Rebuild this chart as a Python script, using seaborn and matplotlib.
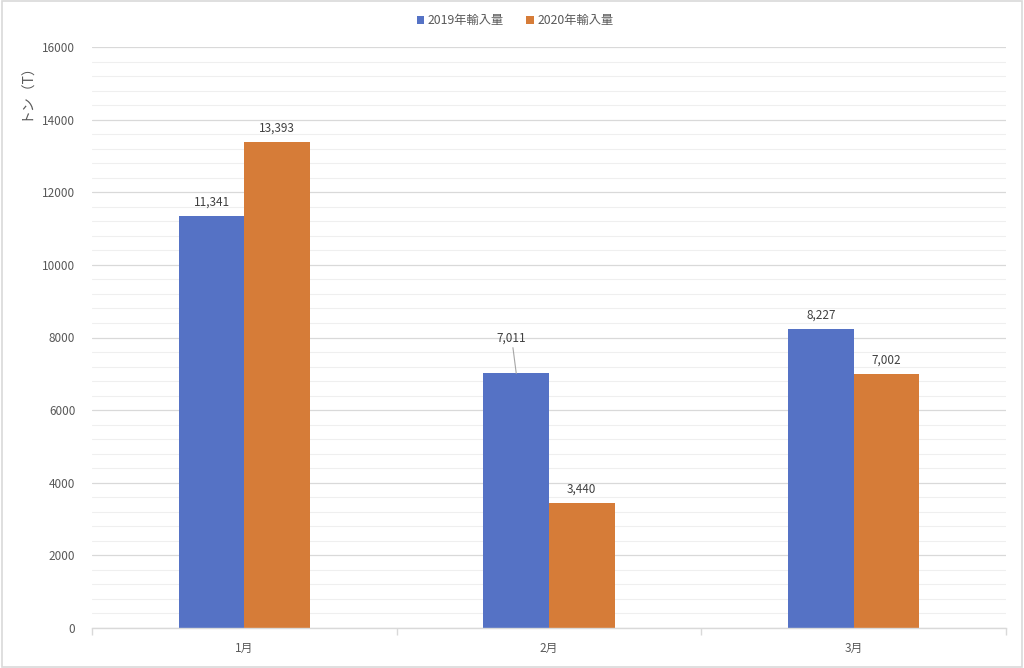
import matplotlib
matplotlib.use("Agg")
import matplotlib.pyplot as plt
import seaborn as sns
import pandas as pd
from matplotlib.patches import Rectangle
from matplotlib.ticker import MultipleLocator, FixedLocator

months = ["1月", "2月", "3月"]
series_names = ["2019年輸入量", "2020年輸入量"]
imports_2019 = [11341, 7011, 8227]
imports_2020 = [13393, 3440, 7002]
colors = ["#5572C5", "#D67C38"]

df = pd.DataFrame({
    "month": months * 2,
    "series": [series_names[0]] * 3 + [series_names[1]] * 3,
    "value": imports_2019 + imports_2020,
})

sns.set_theme(style="white")
plt.rcParams["font.family"] = ["Noto Sans CJK JP", "DejaVu Sans"]

fig = plt.figure(figsize=(10.24, 6.68), dpi=100)
fig.patches.append(Rectangle((0.002, 0.002), 0.996, 0.996, transform=fig.transFigure,
                             fill=False, edgecolor="#D9D9D9", linewidth=1.2))
ax = fig.add_axes([92 / 1024, 40 / 668, 914 / 1024, 581 / 668])

sns.barplot(data=df, x="month", y="value", hue="series", palette=colors,
            width=0.43, saturation=1, ax=ax, legend=True, linewidth=0, edgecolor="none")

ax.set_xlim(-0.5, 2.5)
ax.set_ylim(0, 16000)
ax.yaxis.set_major_locator(MultipleLocator(2000))
ax.yaxis.set_minor_locator(MultipleLocator(400))
ax.grid(axis="y", which="major", color="#D9D9D9", linewidth=0.9)
ax.grid(axis="y", which="minor", color="#EFEFEF", linewidth=0.8)
ax.set_axisbelow(True)
for s in ["top", "right", "left"]:
    ax.spines[s].set_visible(False)
ax.spines["bottom"].set_color("#D9D9D9")
ax.spines["bottom"].set_linewidth(1.0)

ax.xaxis.set_minor_locator(FixedLocator([-0.5, 0.5, 1.5, 2.5]))
ax.tick_params(axis="x", which="major", length=0, pad=10, labelsize=8.5, labelcolor="#595959")
ax.tick_params(axis="x", which="minor", length=5, color="#D9D9D9", width=1, direction="out")
ax.tick_params(axis="x", which="minor", bottom=True)
ax.tick_params(axis="y", which="both", length=0, pad=12, labelsize=8.5, labelcolor="#595959")
ax.set_xlabel("")
ax.set_ylabel("トン（T）", fontsize=10, color="#595959", labelpad=12)
ax.yaxis.set_label_coords(-0.065, 0.93)

# data labels
all_vals = [imports_2019, imports_2020]
for ci, cont in enumerate(ax.containers):
    for bi, bar in enumerate(cont):
        v = all_vals[ci][bi]
        x = bar.get_x() + bar.get_width() / 2
        h = bar.get_height()
        if ci == 0 and bi == 1:
            ax.annotate(f"{v:,}", xy=(x, h), xytext=(x - 0.015, h + 800),
                        ha="center", va="bottom", fontsize=8.5, color="#404040",
                        arrowprops=dict(arrowstyle="-", color="#A6A6A6", lw=0.8,
                                        shrinkA=0, shrinkB=0))
        else:
            ax.text(x, h + 200, f"{v:,}", ha="center", va="bottom",
                    fontsize=8.5, color="#404040")

leg = ax.legend(loc="upper center", bbox_to_anchor=(0.463, 1.075), ncol=2,
                frameon=False, fontsize=8.8, handlelength=0.6, handleheight=0.6,
                handletextpad=0.3, columnspacing=1.8)
for t in leg.get_texts():
    t.set_color("#595959")

fig.savefig("out.png", dpi=100)
